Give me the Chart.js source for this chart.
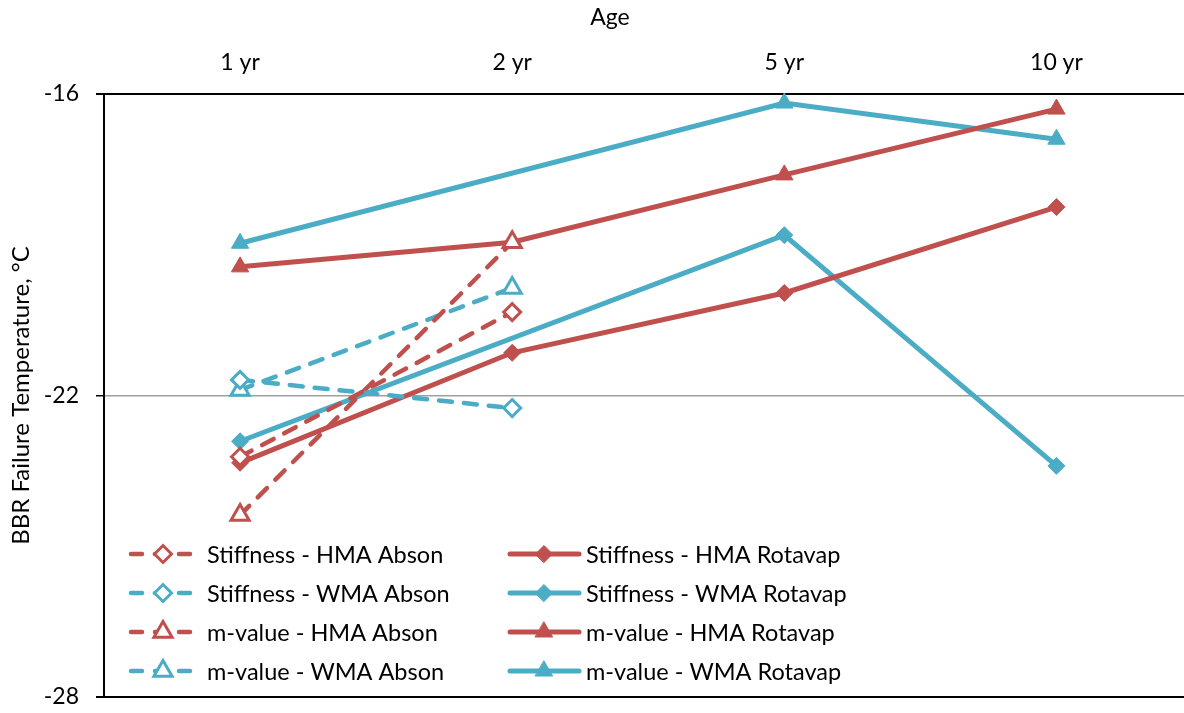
<!DOCTYPE html>
<html><head><meta charset="utf-8">
<script src="https://cdn.jsdelivr.net/npm/chart.js@4.4.1/dist/chart.umd.min.js"></script>
<style>
html,body{margin:0;padding:0;background:#fff;overflow:hidden;}
#wrap{position:relative;width:1206px;height:713px;}
canvas{display:block;}
</style></head><body>
<div id="wrap"><canvas id="c" width="1206" height="713"></canvas></div>
<script>
// ---- data ----
const categories = ['1 yr', '2 yr', '5 yr', '10 yr'];
const stiffnessHmaAbson   = [-23.22, -20.34, null, null];
const stiffnessWmaAbson   = [-21.69, -22.25, null, null];
const mValueHmaAbson      = [-24.38, -18.95, null, null];
const mValueWmaAbson      = [-21.89, -19.86, null, null];
const stiffnessHmaRotavap = [-23.34, -21.15, -19.96, -18.25];
const stiffnessWmaRotavap = [-22.91, null,   -18.81, -23.40];
const mValueHmaRotavap    = [-19.44, -18.95, -17.61, -16.30];
const mValueWmaRotavap    = [-18.97, null,   -16.18, -16.90];
const yTicks = [-28, -22, -16];
const xTitle = 'Age';
const yTitle = 'BBR Failure Temperature, \u00B0C';
const seriesNames = [
  'Stiffness - HMA Abson', 'Stiffness - WMA Abson', 'm-value - HMA Abson', 'm-value - WMA Abson',
  'Stiffness - HMA Rotavap', 'Stiffness - WMA Rotavap', 'm-value - HMA Rotavap', 'm-value - WMA Rotavap'
];

// ---- styles ----
const RED = '#C0504D', BLUE = '#4BACC6';
const FONT = 'Lato';
const FS = 23;

function dashed(label, data, color, style) {
  return {
    label, data, borderColor: color, backgroundColor: '#fff',
    borderWidth: 4.5, borderDash: [13, 12], borderCapStyle: 'round',
    pointStyle: style, pointRadius: style === 'triangle' ? 10.5 : 8.5,
    pointBorderWidth: 3, pointBackgroundColor: '#fff', pointBorderColor: color,
    spanGaps: false, tension: 0, clip: false
  };
}
function solid(label, data, color, style) {
  return {
    label, data, borderColor: color, backgroundColor: color,
    borderWidth: 5, borderCapStyle: 'round',
    pointStyle: style, pointRadius: style === 'triangle' ? 10 : 8.5,
    pointBorderWidth: 1, pointBackgroundColor: color, pointBorderColor: color,
    spanGaps: true, tension: 0, clip: false,
    segment: { borderWidth: c => (c.p1DataIndex - c.p0DataIndex > 1 ? 3 : 5) }
  };
}

const datasets = [
  dashed(seriesNames[0], stiffnessHmaAbson, RED, 'rectRot'),
  dashed(seriesNames[1], stiffnessWmaAbson, BLUE, 'rectRot'),
  dashed(seriesNames[2], mValueHmaAbson, RED, 'triangle'),
  dashed(seriesNames[3], mValueWmaAbson, BLUE, 'triangle'),
  solid(seriesNames[4], stiffnessHmaRotavap, RED, 'rectRot'),
  solid(seriesNames[5], stiffnessWmaRotavap, BLUE, 'rectRot'),
  solid(seriesNames[6], mValueHmaRotavap, RED, 'triangle'),
  solid(seriesNames[7], mValueWmaRotavap, BLUE, 'triangle')
];

const legendPlugin = {
  id: 'customLegend',
  afterDatasetsDraw(chart) {
    const ctx = chart.ctx;
    const cols = [{ x0: 131, x1: 194, mx: 163, tx: 207 }, { x0: 510, x1: 579, mx: 544, tx: 586 }];
    const rows = [554, 593, 632, 671];
    chart.data.datasets.forEach((ds, i) => {
      const col = cols[Math.floor(i / 4)], y = rows[i % 4];
      ctx.save();
      ctx.strokeStyle = ds.borderColor;
      ctx.lineWidth = ds.borderWidth;
      ctx.lineCap = ds.borderCapStyle || 'butt';
      ctx.setLineDash(ds.borderDash ? [11, 13] : []);
      ctx.beginPath(); ctx.moveTo(col.x0, y); ctx.lineTo(col.x1, y); ctx.stroke();
      ctx.setLineDash([]);
      ctx.fillStyle = ds.pointBackgroundColor;
      ctx.strokeStyle = ds.pointBorderColor;
      ctx.lineWidth = ds.pointBorderWidth;
      Chart.helpers.drawPoint(ctx, { pointStyle: ds.pointStyle, radius: ds.pointRadius, rotation: 0, borderWidth: ds.pointBorderWidth }, col.mx, y);
      ctx.fillStyle = '#000';
      ctx.font = '23.5px ' + FONT;
      ctx.textBaseline = 'middle';
      ctx.textAlign = 'left';
      ctx.fillText(ds.label, col.tx, y + 1);
      ctx.restore();
    });
  },
  afterDraw(chart) {
    const ctx = chart.ctx;
    ctx.save();
    ctx.fillStyle = '#000';
    ctx.font = FS + 'px ' + FONT;
    ctx.textAlign = 'center';
    ctx.textBaseline = 'middle';
    ctx.fillText(xTitle, 610, 18);
    ctx.restore();
  }
};

new Chart(document.getElementById('c'), {
  type: 'line',
  data: { labels: categories, datasets },
  plugins: [legendPlugin],
  options: {
    responsive: false, maintainAspectRatio: false, animation: false, devicePixelRatio: 1,
    events: [],
    layout: { padding: { left: 0, top: 0, right: 0, bottom: 16 } },
    plugins: { legend: { display: false }, tooltip: { enabled: false }, title: { display: false } },
    scales: {
      x: {
        type: 'category', position: 'top', offset: true,
        grid: { display: false, drawTicks: false },
        border: { display: true, color: '#000', width: 2 },
        ticks: { color: '#000', font: { family: FONT, size: FS }, padding: 18, maxRotation: 0, autoSkip: false },
        afterFit: s => { s.height = 94; s.paddingLeft = 0; s.paddingRight = 0; }
      },
      y: {
        min: -28, max: -16,
        afterBuildTicks: s => { s.ticks = yTicks.map(v => ({ value: v })); },
        grid: {
          color: c => (c.tick && c.tick.value === -22 ? '#a0a0a0' : '#000'),
          lineWidth: c => (c.tick && c.tick.value === -22 ? 1.5 : 2),
          tickColor: '#000', tickLength: 8, drawTicks: true
        },
        border: { display: true, color: '#000', width: 2 },
        ticks: { color: '#000', font: { family: FONT, size: FS }, padding: 17 },
        title: { display: true, text: yTitle, color: '#000', font: { family: FONT, size: 24 }, padding: { top: 7, bottom: 0 } },
        afterFit: s => { s.width = 104; s.paddingTop = 0; s.paddingBottom = 0; }
      }
    }
  }
});
</script>
</body></html>
